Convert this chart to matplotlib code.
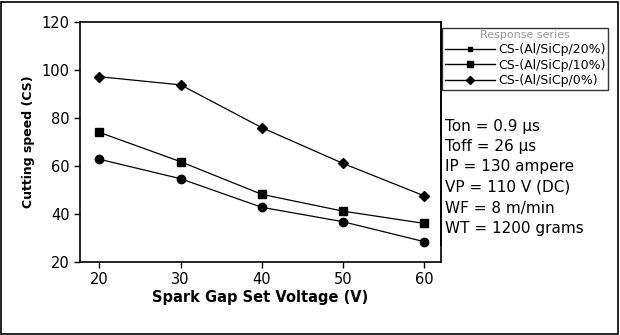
import numpy as np
import matplotlib
matplotlib.use("Agg")
import matplotlib.pyplot as plt
from matplotlib.patches import Rectangle

voltage = [20, 30, 40, 50, 60]
cs_20 = [62.8, 54.7, 42.8, 36.8, 28.5]
cs_10 = [74.0, 61.8, 48.2, 41.2, 36.1]
cs_0 = [97.2, 93.8, 76.0, 61.1, 47.6]
labels = ["CS-(Al/SiCp/20%)", "CS-(Al/SiCp/10%)", "CS-(Al/SiCp/0%)"]
params = ["Ton = 0.9 μs", "Toff = 26 μs", "IP = 130 ampere",
          "VP = 110 V (DC)", "WF = 8 m/min", "WT = 1200 grams"]

plt.rcParams['font.family'] = ['DejaVu Sans']

fig = plt.figure(figsize=(6.2, 3.35), dpi=100)
ax = fig.add_axes([80/620, 1-262/335, 361/620, 240/335])

l1, = ax.plot(voltage, cs_20, color="black", lw=0.9, marker="o", ms=6)
l2, = ax.plot(voltage, cs_10, color="black", lw=0.9, marker="s", ms=6)
l3, = ax.plot(voltage, cs_0, color="black", lw=0.9, marker="D", ms=5.5)

ax.set_xlim(17.6, 62.1)
ax.set_ylim(20, 120)
ax.set_xticks(voltage)
ax.set_yticks(np.arange(20, 121, 20))
ax.tick_params(direction="out", length=4, width=1, labelsize=10.5)
for s in ax.spines.values():
    s.set_linewidth(1.2)
ax.set_xlabel("Spark Gap Set Voltage (V)", fontsize=10.5, fontweight="bold", labelpad=2)
ax.set_ylabel("Cutting speed (CS)", fontsize=9, fontweight="bold", labelpad=5)

# legend (small markers like the original key)
h1, = ax.plot([], [], color="black", lw=1, marker="s", ms=3)
h2, = ax.plot([], [], color="black", lw=1, marker="s", ms=5)
h3, = ax.plot([], [], color="black", lw=1, marker="D", ms=4)
leg = fig.legend([h1, h2, h3], labels, title="Response series",
                 loc="upper left", bbox_to_anchor=(442/620, 1-28/335),
                 fontsize=9, title_fontsize=8, frameon=True, fancybox=False,
                 edgecolor="black", handlelength=4.0, borderpad=0.2,
                 labelspacing=0.2, handletextpad=0.3, borderaxespad=0)
leg.get_title().set_color("#999999")
leg.get_frame().set_linewidth(1.0)

# vertical line down beside the parameter block
fig.add_artist(plt.Line2D([441/620, 441/620], [1-22/335, 1-245/335],
                          color="black", lw=1.2, transform=fig.transFigure))

for i, t in enumerate(params):
    fig.text(445/620, 1-(126 + i*20.5)/335, t, fontsize=11, va="center", ha="left")

fig.add_artist(Rectangle((1/620, 1/335), 617/620, 332/335, fill=False,
                         edgecolor="black", lw=1.2, transform=fig.transFigure))

fig.savefig("out.png", dpi=100)
